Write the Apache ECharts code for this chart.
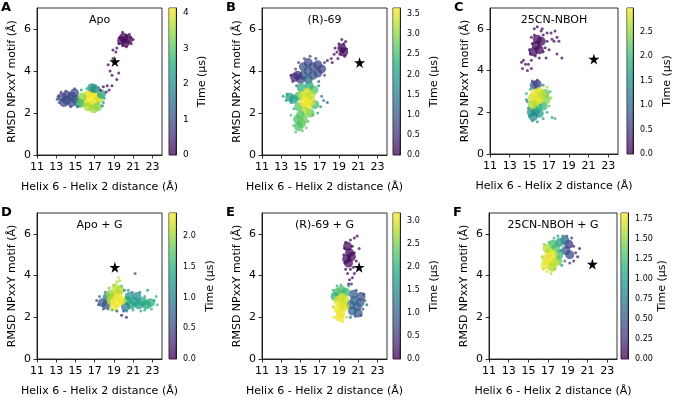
<!DOCTYPE html>
<html>
<head>
<meta charset="utf-8">
<script src="https://cdn.jsdelivr.net/npm/echarts@6/dist/echarts.min.js"></script>
<style>
  html, body { margin: 0; padding: 0; background: #fff; }
  #main { width: 674px; height: 398px; }
</style>
</head>
<body>
<div id="main"></div>
<script>
// tick labels and panel text
const xTicks = [11, 13, 15, 17, 19, 21, 23];
const yTicks = [0, 2, 4, 6];
const panelTitles = ["Apo", "(R)-69", "25CN-NBOH", "Apo + G", "(R)-69 + G", "25CN-NBOH + G"];
const panelLetters = ["A", "B", "C", "D", "E", "F"];
const timeMax = [4.14, 3.65, 2.99, 2.38, 3.18, 1.82];
const timeTicks = [
  [0, 1, 2, 3, 4],
  [0, 0.5, 1, 1.5, 2, 2.5, 3, 3.5],
  [0, 0.5, 1, 1.5, 2, 2.5],
  [0, 0.5, 1, 1.5, 2],
  [0, 0.5, 1, 1.5, 2, 2.5, 3],
  [0, 0.25, 0.5, 0.75, 1, 1.25, 1.5, 1.75],
];
const tickDecimals = [0, 1, 1, 1, 1, 2];
// reference structure (star) per panel: [distance, rmsd]
const stars = [[19.1, 4.45], [21.15, 4.4], [21.55, 4.55], [19.1, 4.4], [21.1, 4.4], [21.5, 4.55]];

// points: [helix distance, rmsd, time]
const apoCore = [
  [13.6, 2.75, 0.9], [14.1, 2.6, 0.9], [14.1, 2.85, 0.8], [14.6, 2.5, 1.0], [14.6, 2.8, 0.9],
  [15.0, 2.65, 1.1], [13.8, 2.5, 0.9], [14.9, 2.95, 1.0], [15.3, 2.5, 1.3],
  [16.0, 2.5, 3.9], [16.2, 2.85, 4.0], [16.6, 2.4, 4.1], [16.6, 2.7, 4.1], [16.7, 3.0, 4.0],
  [17.1, 2.55, 4.0], [17.1, 2.85, 4.1], [17.5, 2.7, 3.8], [16.3, 2.3, 3.6], [15.7, 2.75, 3.4],
  [15.5, 2.45, 3.0], [17.3, 2.3, 3.3], [16.9, 2.2, 3.5],
  [16.7, 3.2, 2.2], [17.0, 3.15, 2.0], [17.7, 2.9, 2.3],
  [19.8, 5.45, 0.1], [20.2, 5.35, 0.1], [20.0, 5.6, 0.1], [20.5, 5.5, 0.15],
];
const apoSpread = [
  [13.2, 2.8, 0.8], [13.3, 2.5, 0.9], [13.5, 3.0, 0.7], [14.0, 3.05, 0.9], [14.5, 2.3, 1.0],
  [15.2, 2.3, 1.2], [13.1, 2.65, 0.8], [14.9, 3.15, 1.1],
  [17.9, 2.5, 2.1], [18.0, 2.7, 2.5], [17.8, 2.35, 1.9], [15.6, 3.1, 2.3], [16.2, 3.15, 2.6], [17.4, 3.2, 1.8],
  [17.6, 3.1, 0.2], [17.9, 3.25, 0.1], [18.2, 3.0, 0.2], [18.5, 3.1, 0.2], [18.3, 3.3, 0.15],
  [18.8, 3.3, 0.1], [19.3, 3.6, 0.1], [19.5, 3.9, 0.1], [18.8, 3.8, 0.1], [18.6, 4.0, 0.1],
  [18.4, 4.3, 0.1], [18.9, 4.6, 0.05], [19.2, 4.9, 0.1], [18.9, 5.0, 0.05], [19.3, 5.1, 0.1],
  [19.5, 5.3, 0.1], [19.6, 5.6, 0.1], [19.9, 5.85, 0.05], [20.3, 5.7, 0.1], [20.7, 5.6, 0.1],
  [21.0, 5.5, 0.1], [20.8, 5.3, 0.15], [19.9, 5.2, 0.1], [20.3, 5.15, 0.1], [20.6, 5.75, 0.1],
];

const r69Core = [
  [15.3, 3.8, 1.0], [15.3, 4.2, 0.9], [15.8, 3.6, 1.1], [15.8, 4.0, 1.0], [15.8, 4.4, 0.8],
  [16.3, 3.8, 1.0], [16.3, 4.2, 0.9], [16.8, 3.9, 0.9], [16.8, 4.3, 0.8], [17.2, 4.1, 0.7], [15.0, 3.6, 0.8],
  [14.4, 3.7, 0.4], [14.7, 3.8, 0.5],
  [14.8, 2.3, 2.7], [14.8, 2.8, 2.6], [16.5, 2.4, 2.5], [16.4, 3.1, 2.6], [15.1, 3.2, 2.3],
  [15.9, 3.3, 2.2], [16.0, 2.0, 2.8],
  [15.3, 2.5, 3.5], [15.3, 2.85, 3.4], [15.7, 2.35, 3.6], [15.7, 2.7, 3.6], [15.7, 3.0, 3.4],
  [16.1, 2.55, 3.5], [16.1, 2.85, 3.3], [15.5, 2.1, 3.2],
  [14.7, 1.7, 2.6], [15.1, 1.5, 2.7], [15.0, 1.9, 2.6], [15.3, 1.7, 2.8], [14.8, 1.35, 2.6],
  [13.9, 2.75, 2.1], [14.3, 2.65, 2.0],
  [19.3, 5.1, 0.1], [19.5, 4.9, 0.08],
];
const r69Spread = [
  [13.2, 2.8, 2.0], [13.5, 2.6, 2.1], [13.6, 2.9, 1.9], [14.0, 2.5, 2.2], [14.3, 2.2, 2.4],
  [14.0, 1.9, 2.6], [14.3, 1.4, 2.7], [14.5, 1.1, 2.6], [15.2, 1.15, 2.7], [15.6, 1.3, 2.8],
  [15.8, 1.6, 2.7], [16.3, 1.9, 2.6], [16.8, 2.0, 2.3], [17.1, 2.3, 2.0], [17.4, 2.6, 1.4],
  [17.8, 2.5, 1.2], [17.2, 2.8, 1.6], [16.9, 3.3, 1.8],
  [14.5, 4.1, 0.7], [14.8, 4.4, 0.8], [15.4, 4.6, 0.8], [16.0, 4.7, 0.7], [16.6, 4.6, 0.6],
  [17.5, 3.8, 0.8], [17.5, 4.4, 0.6], [14.2, 3.5, 0.5], [14.0, 3.8, 0.3], [14.6, 3.3, 1.2], [16.9, 3.5, 1.0],
  [17.8, 4.5, 0.2], [18.2, 4.6, 0.2], [18.5, 4.8, 0.1], [18.3, 4.4, 0.15], [18.8, 4.9, 0.1],
  [18.9, 4.6, 0.1], [19.2, 5.1, 0.1], [19.0, 5.3, 0.1], [19.4, 4.9, 0.1], [19.5, 5.3, 0.05],
  [19.3, 5.5, 0.1], [19.7, 5.4, 0.05], [19.8, 5.05, 0.1], [19.6, 4.7, 0.1], [19.1, 4.8, 0.1], [18.6, 5.1, 0.1],
];

const nbohCore = [
  [15.4, 4.9, 0.1], [15.7, 5.2, 0.1], [16.0, 5.0, 0.1], [15.8, 5.5, 0.1], [16.2, 5.4, 0.1],
  [15.5, 3.3, 0.8], [15.8, 3.35, 0.6],
  [15.2, 2.0, 1.5], [15.6, 2.05, 1.4], [16.0, 1.95, 1.6], [15.9, 2.3, 1.9], [16.4, 2.3, 2.0], [15.4, 1.8, 1.4],
  [16.7, 2.6, 2.4], [16.6, 2.9, 2.3],
  [15.3, 2.7, 2.8], [15.6, 2.5, 2.9], [15.6, 2.9, 2.9], [16.0, 2.6, 2.85], [16.0, 3.0, 2.8],
  [15.3, 2.35, 2.6], [16.3, 2.8, 2.7],
];
const nbohSpread = [
  [15.2, 4.5, 0.1], [15.5, 5.7, 0.1], [16.4, 5.7, 0.05], [14.9, 4.3, 0.1], [16.0, 4.6, 0.1], [16.6, 5.1, 0.1],
  [15.6, 4.7, 0.1], [15.1, 4.8, 0.1], [16.2, 5.9, 0.1], [16.4, 4.9, 0.1], [15.3, 5.3, 0.1], [14.6, 4.3, 0.1],
  [14.3, 4.1, 0.1], [14.4, 4.5, 0.1], [14.2, 4.4, 0.05], [14.8, 4.0, 0.1], [15.2, 4.1, 0.1],
  [15.0, 5.0, 0.1], [15.2, 5.6, 0.1], [15.5, 6.0, 0.1], [15.8, 6.1, 0.05], [16.3, 6.0, 0.1],
  [16.8, 5.8, 0.1], [17.2, 5.8, 0.1], [17.6, 5.9, 0.1], [17.8, 5.6, 0.1], [17.5, 5.4, 0.1],
  [18.0, 5.4, 0.1], [17.0, 5.0, 0.1], [16.7, 4.6, 0.1], [17.8, 4.8, 0.1], [18.3, 4.6, 0.05],
  [17.3, 5.5, 0.1], [16.8, 5.4, 0.1],
  [14.7, 2.9, 2.0], [14.8, 2.5, 1.5], [14.9, 2.2, 1.3], [15.0, 1.8, 1.5], [15.3, 1.6, 1.5],
  [15.8, 1.55, 1.6], [16.4, 1.7, 1.7], [16.8, 2.0, 1.8], [17.0, 2.3, 2.3], [17.2, 2.7, 2.5],
  [17.1, 3.0, 2.1], [16.8, 3.2, 2.6], [16.4, 3.3, 1.5], [15.3, 3.5, 0.6], [15.8, 3.55, 0.5],
  [15.1, 3.1, 1.8], [17.3, 1.75, 1.7], [17.6, 1.7, 2.0], [14.7, 2.6, 1.3],
];

const apoGCore = [
  [17.8, 2.7, 0.7], [18.2, 2.6, 0.6], [18.3, 2.95, 0.9],
  [20.4, 2.8, 1.5], [20.8, 2.6, 1.4], [21.2, 2.75, 1.4], [21.6, 2.6, 1.3], [22.0, 2.75, 1.4],
  [22.4, 2.6, 1.4], [22.8, 2.7, 1.5], [20.6, 3.0, 1.3], [21.4, 3.0, 1.2], [20.2, 2.5, 1.0],
  [18.7, 2.8, 2.2], [19.0, 2.5, 2.3], [19.0, 3.0, 2.3], [19.4, 2.7, 2.35], [19.4, 3.1, 2.3],
  [19.8, 2.8, 2.3], [19.2, 3.4, 2.2], [19.6, 3.3, 2.1], [18.6, 3.1, 2.0],
];
const apoGSpread = [
  [19.3, 3.7, 2.1], [19.6, 3.75, 2.0],
  [17.2, 2.8, 0.5], [17.4, 2.6, 0.6], [17.5, 3.0, 0.8], [17.9, 2.4, 0.6], [18.4, 2.4, 1.0],
  [18.1, 3.2, 1.2], [18.5, 3.4, 1.8], [19.0, 3.55, 1.9], [19.8, 3.5, 1.7], [20.1, 3.3, 0.9],
  [20.5, 3.3, 1.2], [20.3, 2.3, 1.1], [19.8, 2.1, 0.1], [20.3, 2.0, 0.2], [19.3, 2.3, 0.5],
  [18.8, 2.35, 1.7], [21.0, 2.35, 1.4], [21.8, 2.3, 1.5], [22.2, 2.35, 1.4], [22.9, 2.4, 1.5],
  [23.2, 2.8, 1.4], [23.5, 2.6, 1.6], [23.4, 3.0, 1.6], [22.2, 3.0, 1.4], [22.5, 3.3, 1.3],
  [21.7, 3.2, 1.1], [21.2, 4.1, 0.7], [19.5, 3.9, 2.2], [20.9, 3.2, 0.9], [20.0, 2.3, 0.6],
];

const r69GCore = [
  [19.8, 4.8, 0.1], [20.1, 5.1, 0.1], [20.0, 4.6, 0.1], [20.3, 4.9, 0.1], [19.9, 5.4, 0.1],
  [20.2, 2.6, 1.1], [20.4, 2.3, 1.0], [20.6, 2.8, 1.0], [20.9, 2.5, 0.9], [21.2, 2.7, 1.0],
  [20.5, 3.1, 1.0], [21.0, 2.2, 0.9], [21.3, 3.0, 0.8],
  [18.9, 3.2, 2.2], [19.3, 3.3, 2.3], [19.7, 3.2, 2.1], [18.6, 3.0, 2.0],
  [18.9, 2.4, 3.1], [18.9, 2.8, 3.0], [19.2, 2.2, 3.15], [19.3, 2.6, 3.1], [19.3, 2.95, 3.0],
  [19.6, 2.5, 3.0], [19.1, 2.0, 3.1], [19.6, 2.85, 2.9],
];
const r69GSpread = [
  [19.5, 5.0, 0.1], [19.6, 5.3, 0.1], [19.7, 5.6, 0.1], [20.2, 5.7, 0.1], [20.6, 5.8, 0.05],
  [20.9, 5.9, 0.1], [20.4, 5.4, 0.1], [20.6, 5.1, 0.1], [20.8, 4.7, 0.1], [20.5, 4.4, 0.1],
  [20.2, 4.3, 0.1], [19.9, 4.1, 0.1], [20.1, 3.8, 0.1], [20.4, 3.9, 0.1], [19.7, 4.3, 0.1],
  [19.6, 4.6, 0.1], [20.6, 4.1, 0.1], [21.1, 5.3, 0.1], [20.0, 3.6, 0.2], [20.3, 3.6, 0.3],
  [18.4, 2.5, 2.8], [18.4, 3.3, 2.1], [18.5, 2.0, 3.0], [19.4, 1.8, 3.1], [19.8, 2.0, 2.8],
  [20.0, 3.5, 1.8], [18.8, 3.5, 2.0], [19.2, 3.55, 2.1], [21.5, 2.4, 0.8], [21.7, 2.8, 0.9],
  [21.6, 3.1, 0.7], [20.8, 3.3, 0.8], [21.9, 2.6, 1.1], [20.2, 2.0, 1.2], [20.7, 2.05, 1.0], [21.3, 2.1, 0.8],
];

const nbohGCore = [
  [18.8, 5.2, 0.5], [19.1, 5.5, 0.3], [19.2, 5.0, 0.4], [18.7, 5.7, 0.6],
  [17.8, 5.3, 1.3], [18.1, 5.0, 1.2], [17.5, 5.5, 1.25], [18.2, 5.6, 1.0], [18.0, 4.7, 1.4],
  [16.8, 4.8, 1.7], [17.1, 5.1, 1.75], [17.2, 4.7, 1.8], [17.5, 5.0, 1.75], [16.9, 5.3, 1.6],
  [17.6, 4.6, 1.7], [17.4, 4.4, 1.6], [16.7, 4.5, 1.75],
];
const nbohGSpread = [
  [16.4, 4.9, 1.6], [16.5, 4.3, 1.7], [16.9, 4.2, 1.75], [17.3, 4.1, 1.6], [17.7, 4.3, 1.5],
  [16.6, 5.5, 1.5], [17.1, 5.6, 1.3], [17.6, 5.8, 1.2], [18.0, 5.9, 1.0], [18.5, 5.9, 0.8],
  [18.9, 5.9, 0.5], [19.4, 5.8, 0.3], [19.6, 5.4, 0.2], [19.8, 5.1, 0.15], [20.0, 4.9, 0.1],
  [19.6, 4.7, 0.2], [19.2, 4.6, 0.3], [18.7, 4.7, 0.6], [18.4, 4.5, 1.0], [18.3, 5.2, 0.9], [20.2, 5.3, 0.1],
];

const coreSets = [apoCore, r69Core, nbohCore, apoGCore, r69GCore, nbohGCore];
const spreadSets = [apoSpread, r69Spread, nbohSpread, apoGSpread, r69GSpread, nbohGSpread];

const viridis = ["#440154", "#472d7b", "#3b528b", "#2c728e", "#21918c", "#28ae80", "#5ec962", "#addc30", "#fde725"];
const font = "DejaVu Sans";

// pixel boxes of each panel (axes + colorbar left)
const boxes = [
  { l: 37, t: 8, w: 125, h: 147, cb: 169 },
  { l: 262, t: 8, w: 125, h: 147, cb: 393 },
  { l: 490, t: 8, w: 128, h: 146, cb: 627 },
  { l: 37, t: 213, w: 125, h: 146, cb: 169 },
  { l: 262, t: 213, w: 125, h: 146, cb: 393 },
  { l: 489, t: 213, w: 128, h: 146, cb: 621 },
];

const grid = [], xAxis = [], yAxis = [], series = [], visualMap = [], graphic = [];
const axisLine = { show: true, lineStyle: { color: "#000", width: 0.8 } };

boxes.forEach((b, i) => {
  grid.push({ left: b.l, top: b.t, width: b.w, height: b.h, show: true, borderColor: "#000", borderWidth: 0.8 });
  grid.push({ left: b.cb, top: b.t, width: 7, height: b.h, show: true, borderColor: "#000", borderWidth: 0.8 });

  xAxis.push({
    type: "value", gridIndex: 2 * i, min: 11, max: 24,
    axisLine, splitLine: { show: false },
    axisTick: { length: 3.5, customValues: xTicks, lineStyle: { color: "#000", width: 0.8 } },
    axisLabel: { customValues: xTicks, color: "#000", fontSize: 11, fontFamily: font, margin: 7 },
    name: "Helix 6 - Helix 2 distance (Å)", nameLocation: "middle", nameGap: 27,
    nameTextStyle: { color: "#000", fontSize: 11, fontFamily: font },
  });
  xAxis.push({ type: "category", gridIndex: 2 * i + 1, data: [""], show: false });

  yAxis.push({
    type: "value", gridIndex: 2 * i, min: 0, max: 7,
    axisLine, splitLine: { show: false },
    axisTick: { length: 3.5, customValues: yTicks, lineStyle: { color: "#000", width: 0.8 } },
    axisLabel: { customValues: yTicks, color: "#000", fontSize: 11, fontFamily: font, margin: 6 },
    name: "RMSD NPxxY motif (Å)", nameLocation: "middle", nameGap: 19,
    nameTextStyle: { color: "#000", fontSize: 11, fontFamily: font },
  });
  yAxis.push({
    type: "value", gridIndex: 2 * i + 1, min: 0, max: timeMax[i], position: "right",
    axisLine, splitLine: { show: false },
    axisTick: { length: 3.5, customValues: timeTicks[i], lineStyle: { color: "#000", width: 0.8 } },
    axisLabel: {
      customValues: timeTicks[i], color: "#000", fontSize: i === 0 ? 9 : 8, fontFamily: font, margin: 7,
      formatter: (v) => v.toFixed(tickDecimals[i]),
    },
    name: "Time (µs)", nameLocation: "middle", nameGap: i === 0 ? 21 : 29,
    nameTextStyle: { color: "#000", fontSize: 11, fontFamily: font },
  });

  const base = series.length;
  series.push({
    type: "scatter", xAxisIndex: 2 * i, yAxisIndex: 2 * i, data: coreSets[i],
    symbolSize: 9, itemStyle: { opacity: 0.75 }, silent: true,
  });
  series.push({
    type: "scatter", xAxisIndex: 2 * i, yAxisIndex: 2 * i, data: spreadSets[i],
    symbolSize: 3, itemStyle: { opacity: 0.75 }, silent: true,
  });
  series.push({
    type: "scatter", xAxisIndex: 2 * i, yAxisIndex: 2 * i, data: [stars[i]], z: 5,
    symbol: "path://M50 0 L61 35 L98 35 L68 57 L79 91 L50 70 L21 91 L32 57 L2 35 L39 35 Z",
    symbolSize: 11, itemStyle: { color: "#000", opacity: 1 }, silent: true,
  });
  series.push({
    type: "bar", xAxisIndex: 2 * i + 1, yAxisIndex: 2 * i + 1, data: [timeMax[i]],
    barWidth: "100%", silent: true,
    itemStyle: {
      opacity: 0.75,
      color: {
        type: "linear", x: 0, y: 1, x2: 0, y2: 0,
        colorStops: viridis.map((c, k) => ({ offset: k / (viridis.length - 1), color: c })),
      },
    },
  });

  visualMap.push({
    show: false, type: "continuous", dimension: 2, min: 0, max: timeMax[i],
    seriesIndex: [base, base + 1], inRange: { color: viridis },
  });

  graphic.push({
    type: "text", x: b.l + b.w / 2, y: b.t + 12.5,
    style: { text: panelTitles[i], fill: "#000", fontSize: 11, fontFamily: font, align: "center", verticalAlign: "middle" },
  });
  graphic.push({
    type: "text", x: b.l < 100 ? 1 : b.l - 36, y: b.t - 7,
    style: { text: panelLetters[i], fill: "#000", fontSize: 13, fontWeight: "bold", fontFamily: font, align: "left", verticalAlign: "top" },
  });
});

const chart = echarts.init(document.getElementById("main"));
chart.setOption({
  animation: false,
  backgroundColor: "#fff",
  grid, xAxis, yAxis, series, visualMap, graphic,
});
</script>
</body>
</html>
